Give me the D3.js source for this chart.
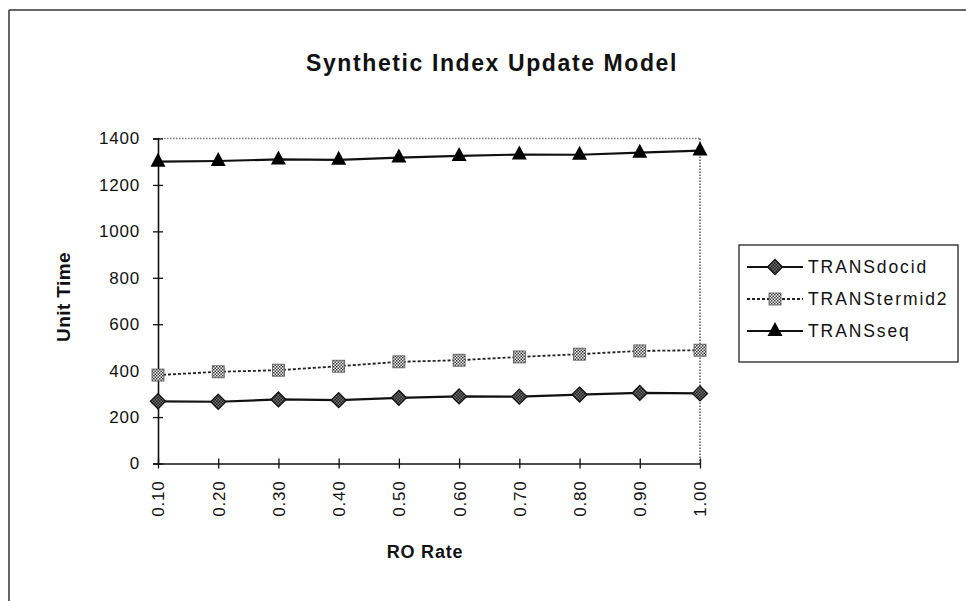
<!DOCTYPE html>
<html>
<head>
<meta charset="utf-8">
<script src="https://cdn.jsdelivr.net/npm/d3@7"></script>
<style>
  html, body { margin: 0; padding: 0; background: #fff; }
  svg { display: block; font-family: "Liberation Sans", Arial, sans-serif; }
</style>
</head>
<body>
<svg id="chart" width="966" height="601"></svg>
<script>
// RO rate categories on the x axis
const categories = ["0.10", "0.20", "0.30", "0.40", "0.50", "0.60", "0.70", "0.80", "0.90", "1.00"];
// Unit time per RO rate for each transaction type
const transDocid   = [268, 266, 276, 273, 283, 289, 288, 297, 304, 302];
const transTermid2 = [381, 395, 402, 419, 438, 445, 459, 471, 485, 488];
const transSeq     = [1300, 1303, 1310, 1308, 1318, 1325, 1331, 1330, 1339, 1348];
const seriesNames  = ["TRANSdocid", "TRANStermid2", "TRANSseq"];
const yTicks       = [0, 200, 400, 600, 800, 1000, 1200, 1400];

const svg = d3.select("#chart");
const defs = svg.append("defs");

// checker fill for the diamond markers (dark)
const pd = defs.append("pattern").attr("id", "checkDark")
  .attr("width", 3).attr("height", 3).attr("patternUnits", "userSpaceOnUse");
pd.append("rect").attr("width", 3).attr("height", 3).attr("fill", "#1a1a1a");
pd.append("rect").attr("width", 1.5).attr("height", 1.5).attr("fill", "#777");
pd.append("rect").attr("x", 1.5).attr("y", 1.5).attr("width", 1.5).attr("height", 1.5).attr("fill", "#777");

// checker fill for the square markers (light)
const pl = defs.append("pattern").attr("id", "checkLight")
  .attr("width", 3).attr("height", 3).attr("patternUnits", "userSpaceOnUse");
pl.append("rect").attr("width", 3).attr("height", 3).attr("fill", "#fff");
pl.append("rect").attr("width", 1.5).attr("height", 1.5).attr("fill", "#333");
pl.append("rect").attr("x", 1.5).attr("y", 1.5).attr("width", 1.5).attr("height", 1.5).attr("fill", "#333");

// outer frame (top and left edges)
svg.append("line").attr("x1", 9).attr("x2", 966).attr("y1", 10).attr("y2", 10)
  .attr("stroke", "#333").attr("stroke-width", 1.5);
svg.append("line").attr("x1", 9).attr("x2", 9).attr("y1", 10).attr("y2", 601)
  .attr("stroke", "#333").attr("stroke-width", 1.5);

const x = d3.scalePoint().domain(categories).range([158, 700]);
const y = d3.scaleLinear().domain([0, 1400]).range([463.5, 138.5]);

// plot area border: dotted top and right edges
svg.append("line").attr("x1", x.range()[0]).attr("x2", x.range()[1])
  .attr("y1", y(1400)).attr("y2", y(1400))
  .attr("stroke", "#777").attr("stroke-width", 1.5).attr("stroke-dasharray", "1.5,1.5");
svg.append("line").attr("x1", x.range()[1]).attr("x2", x.range()[1])
  .attr("y1", y(1400)).attr("y2", y(0))
  .attr("stroke", "#555").attr("stroke-width", 1.5).attr("stroke-dasharray", "1.5,1.5");

// y axis
const yAxis = svg.append("g").attr("transform", `translate(${x.range()[0]},0)`)
  .call(d3.axisLeft(y).tickValues(yTicks).tickFormat(d3.format("d")).tickSize(5).tickPadding(13));
yAxis.select(".domain").attr("stroke", "#111").attr("stroke-width", 1.6);
yAxis.selectAll(".tick line").attr("x1", -5).attr("x2", 5).attr("stroke", "#111").attr("stroke-width", 1.3);
yAxis.selectAll(".tick text").attr("font-size", 17).attr("fill", "#111")
  .attr("font-family", "Liberation Sans, Arial, sans-serif").attr("letter-spacing", 0.8);

// x axis
const xAxis = svg.append("g").attr("transform", `translate(0,${y(0)})`)
  .call(d3.axisBottom(x).tickSize(5).tickSizeOuter(0));
xAxis.select(".domain").attr("stroke", "#111").attr("stroke-width", 1.6);
xAxis.selectAll(".tick line").attr("y1", -5).attr("y2", 5).attr("stroke", "#111").attr("stroke-width", 1.3);
xAxis.selectAll(".tick text")
  .attr("font-size", 17).attr("fill", "#111")
  .attr("font-family", "Liberation Sans, Arial, sans-serif")
  .attr("letter-spacing", 0.8)
  .attr("text-anchor", "end")
  .attr("dy", "0.35em")
  .attr("transform", "translate(0,17) rotate(-90)")
  .attr("x", 0).attr("y", 0);

// series definitions
const series = [
  { name: seriesNames[0], values: transDocid,   dash: null,  width: 2.2, color: "#111", marker: "diamond" },
  { name: seriesNames[1], values: transTermid2, dash: "3,2", width: 1.8, color: "#222", marker: "square" },
  { name: seriesNames[2], values: transSeq,     dash: null,  width: 2.2, color: "#111", marker: "triangle" }
];

function drawMarker(g, type, cx, cy) {
  if (type === "diamond") {
    g.append("path")
      .attr("d", `M${cx},${cy - 7.5}L${cx + 7.5},${cy}L${cx},${cy + 7.5}L${cx - 7.5},${cy}Z`)
      .attr("fill", "url(#checkDark)").attr("stroke", "#111").attr("stroke-width", 1.3);
  } else if (type === "square") {
    g.append("rect").attr("x", cx - 6).attr("y", cy - 6).attr("width", 12).attr("height", 12)
      .attr("fill", "url(#checkLight)").attr("stroke", "#555").attr("stroke-width", 0.8);
  } else {
    g.append("path")
      .attr("d", `M${cx},${cy - 9}L${cx + 7.5},${cy + 5}L${cx - 7.5},${cy + 5}Z`)
      .attr("fill", "#000");
  }
}

const line = d3.line().x((d, i) => x(categories[i])).y(d => y(d));

series.forEach(s => {
  const g = svg.append("g");
  g.append("path").datum(s.values).attr("d", line)
    .attr("fill", "none").attr("stroke", s.color).attr("stroke-width", s.width)
    .attr("stroke-dasharray", s.dash);
  s.values.forEach((v, i) => drawMarker(g, s.marker, x(categories[i]), y(v)));
});

// title
svg.append("text").attr("x", 492).attr("y", 71).attr("text-anchor", "middle")
  .attr("font-size", 23).attr("font-weight", "bold").attr("letter-spacing", 1.6)
  .attr("fill", "#111").text("Synthetic Index Update Model");

// axis titles
svg.append("text").attr("transform", "translate(70,297) rotate(-90)").attr("text-anchor", "middle")
  .attr("font-size", 19).attr("font-weight", "bold").attr("letter-spacing", 0.4)
  .attr("fill", "#111").text("Unit Time");
svg.append("text").attr("x", 425).attr("y", 558).attr("text-anchor", "middle")
  .attr("font-size", 18).attr("font-weight", "bold").attr("letter-spacing", 0.8)
  .attr("fill", "#111").text("RO Rate");

// legend
const lg = svg.append("g");
lg.append("rect").attr("x", 739).attr("y", 245).attr("width", 219).attr("height", 117)
  .attr("fill", "#fff").attr("stroke", "#222").attr("stroke-width", 1.3);
const legendY = [267, 299, 331];
series.forEach((s, i) => {
  const ly = legendY[i];
  lg.append("line").attr("x1", 747).attr("x2", 803).attr("y1", ly).attr("y2", ly)
    .attr("stroke", s.color).attr("stroke-width", s.width).attr("stroke-dasharray", s.dash);
  drawMarker(lg, s.marker, 775, ly);
  lg.append("text").attr("x", 808).attr("y", ly).attr("dy", "0.35em")
    .attr("font-size", 17.5).attr("letter-spacing", 1.9).attr("fill", "#111").text(s.name);
});
</script>
</body>
</html>
